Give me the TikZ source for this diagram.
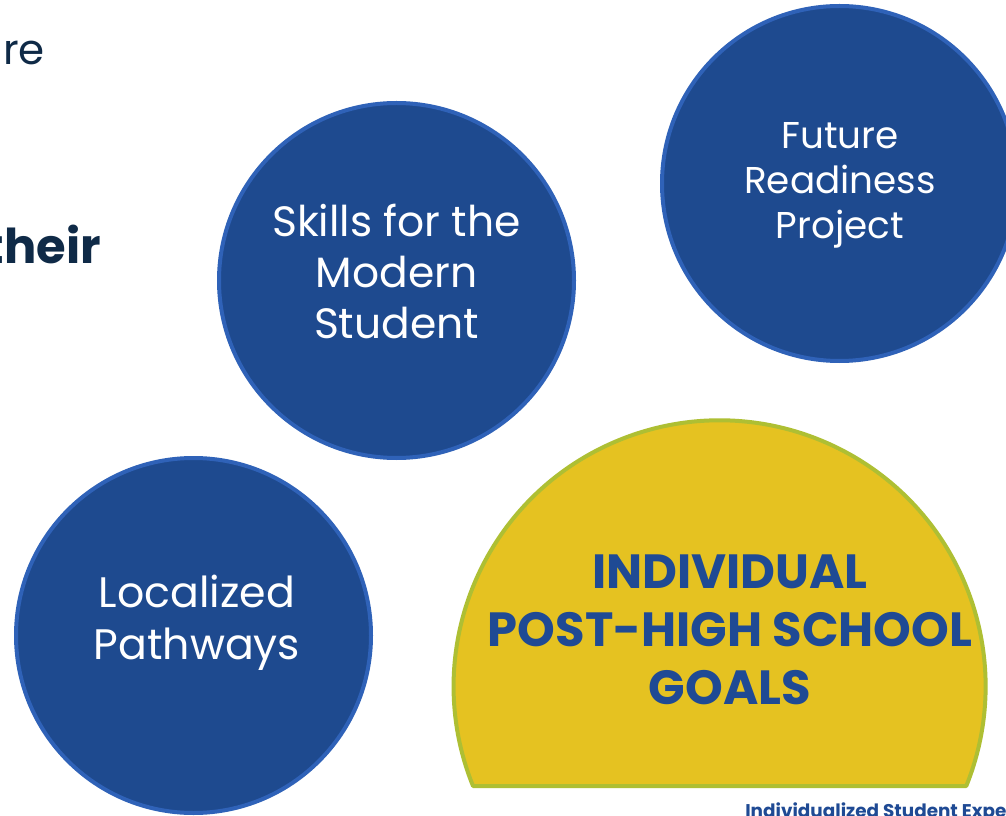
\documentclass[tikz,border=0pt]{standalone}
\usepackage{fontspec}
\setmainfont{Poppins}
\definecolor{bluefill}{HTML}{1E4A8F}
\definecolor{blueedge}{HTML}{2F62B8}
\definecolor{yelfill}{HTML}{E5C221}
\definecolor{yeledge}{HTML}{AEBF33}
\definecolor{goaltext}{HTML}{1F4A94}
\definecolor{navytext}{HTML}{0F2A47}
\tikzset{
  bubble/.style={circle, fill=bluefill, draw=blueedge, line width=3pt, minimum size=266.25pt, inner sep=0pt},
  bubbletext/.style={text=white, align=center, inner sep=0pt},
}
\begin{document}
\begin{tikzpicture}[x=0.75pt,y=-0.75pt]
\useasboundingbox (0,0) rectangle (1006,816);
\clip (0,0) rectangle (1006,816);
\fill[white] (0,0) rectangle (1006,816);

% cut-off heading text at the left
\node[anchor=base east, inner sep=0pt, text=navytext, font=\fontsize{31.5}{36}\selectfont] (hdA) at (45,65) {re};
\node[anchor=base east, inner sep=0pt, text=navytext, font=\bfseries\fontsize{36}{42}\selectfont] (hdB) at (101,264) {their};

% circles
\node[bubble] (skills) at (396.5,280.5) {};
\node[bubble] (future) at (839.5,183.5) {};
\node[bubble] (local) at (193.5,635.5) {};

\node[bubbletext, font=\fontsize{31.8}{38.25}\selectfont] (skillsT) at (396.5,271) {Skills for the\\Modern\\Student};
\node[bubbletext, font=\fontsize{28}{33.75}\selectfont] (futureT) at (840,185) {Future\\Readiness\\Project};
\node[bubbletext, font=\fontsize{32}{39}\selectfont] (localT) at (197,623) {Localized\\Pathways};

% yellow dome
\path[fill=yelfill, draw=yeledge, line width=3pt, line join=round]
  (473,786) arc[start angle=158, end angle=382, radius=266] -- cycle;
\node[align=center, inner sep=0pt, text=goaltext, font=\bfseries\fontsize{36}{43.5}\selectfont] (goals) at (730,629.5) {INDIVIDUAL\\POST-HIGH SCHOOL\\GOALS};

% footer
\node[anchor=base west, inner sep=0pt, text=goaltext, font=\bfseries\fontsize{13.8}{16}\selectfont] (foot) at (745,817) {Individualized Student Experience};
\end{tikzpicture}
\end{document}
